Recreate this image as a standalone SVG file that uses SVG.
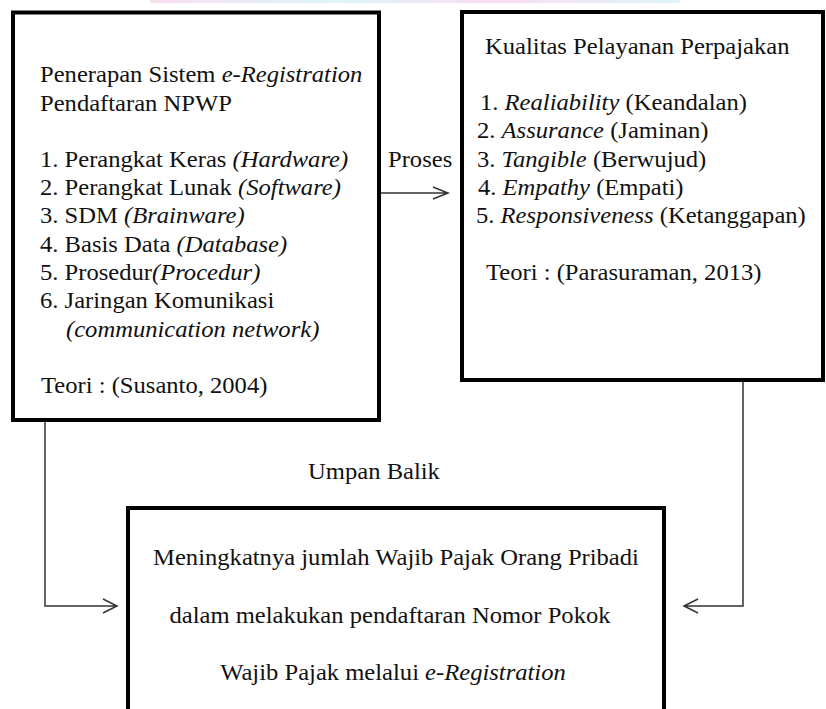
<svg xmlns="http://www.w3.org/2000/svg" width="826" height="709" viewBox="0 0 826 709">
<defs>
<style>
.box{fill:#fff;stroke:#000;stroke-width:4}
.t{font-size:23px;fill:#111}
.i{font-style:italic}
.c{fill:none;stroke:#333;stroke-width:1.5}
.m{text-anchor:middle}
</style>
<linearGradient id="wm" x1="0" x2="1" y1="0" y2="0">
<stop offset="0" stop-color="#f6c8e4"/>
<stop offset="0.35" stop-color="#c8f0f6"/>
<stop offset="0.65" stop-color="#f6c8e4"/>
<stop offset="1" stop-color="#c8f0f6"/>
</linearGradient>
</defs>
<rect width="826" height="709" fill="#fff"/>
<rect x="150" y="0" width="530" height="3" fill="url(#wm)" opacity="0.6"/>
<g font-family="'Liberation Serif', 'Times New Roman', Tinos, serif">
<g id="node-sistem">
<rect class="box" x="13" y="12.5" width="366" height="407.5"/>
<text class="t" transform="translate(40 82) scale(1.07 1)">Penerapan Sistem <tspan class="i">e-Registration</tspan></text>
<text class="t" transform="translate(40 111) scale(1.07 1)">Pendaftaran NPWP</text>
<text class="t" transform="translate(40 167) scale(1.07 1)">1. Perangkat Keras <tspan class="i">(Hardware)</tspan></text>
<text class="t" transform="translate(40 195) scale(1.07 1)">2. Perangkat Lunak <tspan class="i">(Software)</tspan></text>
<text class="t" transform="translate(40 223) scale(1.07 1)">3. SDM <tspan class="i">(Brainware)</tspan></text>
<text class="t" transform="translate(40 252) scale(1.07 1)">4. Basis Data <tspan class="i">(Database)</tspan></text>
<text class="t" transform="translate(40 280) scale(1.07 1)">5. Prosedur<tspan class="i">(Procedur)</tspan></text>
<text class="t" transform="translate(40 308) scale(1.07 1)">6. Jaringan Komunikasi</text>
<text class="t i" transform="translate(66 337) scale(1.07 1)">(communication network)</text>
<text class="t" transform="translate(41 393) scale(1.07 1)">Teori : (Susanto, 2004)</text>
</g>

<g id="node-kualitas">
<rect class="box" x="462" y="12" width="361" height="368"/>
<text class="t" transform="translate(485 54) scale(1.07 1)">Kualitas Pelayanan Perpajakan</text>
<text class="t" transform="translate(480 110) scale(1.07 1)">1. <tspan class="i">Realiability</tspan> (Keandalan)</text>
<text class="t" transform="translate(477 138) scale(1.07 1)">2. <tspan class="i">Assurance</tspan> (Jaminan)</text>
<text class="t" transform="translate(477 167) scale(1.07 1)">3. <tspan class="i">Tangible</tspan> (Berwujud)</text>
<text class="t" transform="translate(478 195) scale(1.07 1)">4. <tspan class="i">Empathy</tspan> (Empati)</text>
<text class="t" transform="translate(476 223) scale(1.07 1)">5. <tspan class="i">Responsiveness</tspan> (Ketanggapan)</text>
<text class="t" transform="translate(486 280) scale(1.07 1)">Teori : (Parasuraman, 2013)</text>
</g>

<g id="node-hasil">
<rect class="box" x="128" y="508" width="536" height="210"/>
<text class="t m" transform="translate(396 565) scale(1.07 1)">Meningkatnya jumlah Wajib Pajak Orang Pribadi</text>
<text class="t m" transform="translate(390 623) scale(1.07 1)">dalam melakukan pendaftaran Nomor Pokok</text>
<text class="t m" transform="translate(393 680) scale(1.07 1)">Wajib Pajak melalui <tspan class="i">e-Registration</tspan></text>
</g>

<g id="connectors">
<path class="c" d="M381 193 H448 M433 187 L448 193 L433 199"/>
<text class="t" transform="translate(388 167) scale(1.07 1)">Proses</text>
<path class="c" d="M45 422 V606 H117 M103 599 L117 606 L103 613"/>
<path class="c" d="M743 382 V606 H684 M698 599 L684 606 L698 613"/>
<text class="t m" transform="translate(374 479) scale(1.07 1)">Umpan Balik</text>
</g>
</g>
</svg>
